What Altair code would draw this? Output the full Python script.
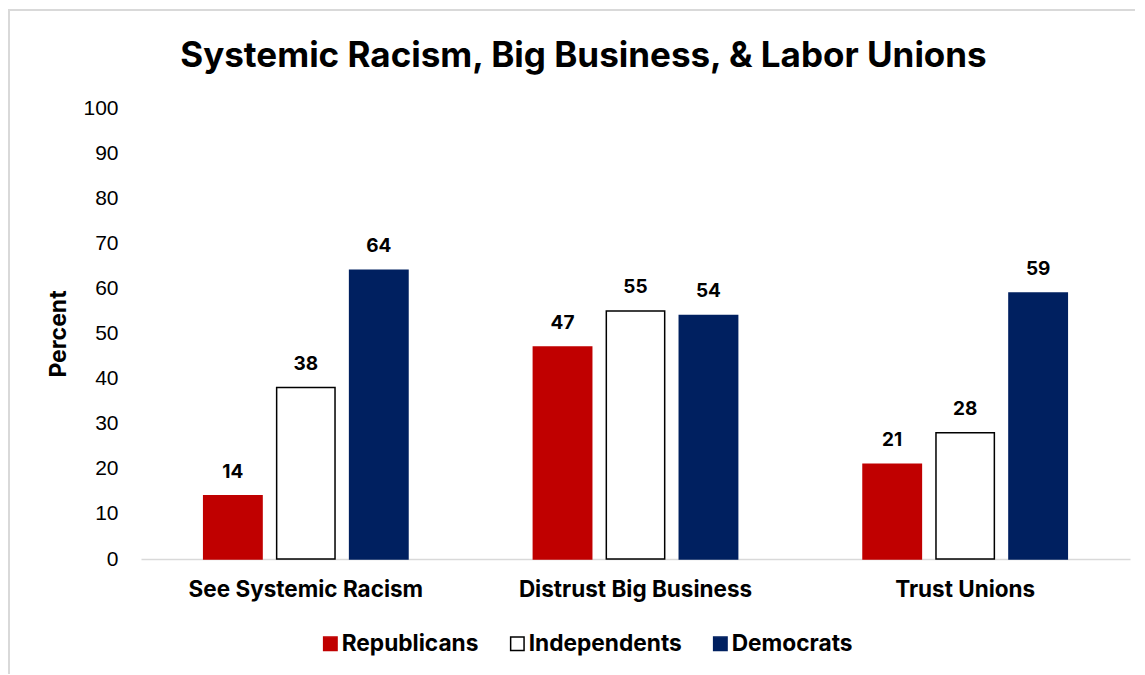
import altair as alt
import pandas as pd

categories = ["See Systemic Racism", "Distrust Big Business", "Trust Unions"]
parties = ["Republicans", "Independents", "Democrats"]
republicans = [14, 47, 21]
independents = [38, 55, 28]
democrats = [64, 54, 59]
colors = ["#C00000", "#FFFFFF", "#002060"]
strokes = ["#C00000", "#000000", "#002060"]

rows = []
for i, c in enumerate(categories):
    for p, vals in zip(parties, [republicans, independents, democrats]):
        rows.append({"category": c, "party": p, "value": vals[i]})
df = pd.DataFrame(rows)

FONT = "Inter"

x = alt.X("category:N", sort=categories, title=None,
          scale=alt.Scale(paddingInner=0.336, paddingOuter=0.168),
          axis=alt.Axis(labelAngle=0, labelFont=FONT, labelFontWeight="bold",
                        labelFontSize=22.5, labelColor="#000000", labelPadding=19,
                        labelLimit=0,
                        ticks=False, domainColor="#d9d9d9", domainWidth=1.5))
xoff = alt.XOffset("party:N", sort=parties,
                   scale=alt.Scale(paddingInner=0.2, paddingOuter=0.1))
y = alt.Y("value:Q", title="Percent",
          scale=alt.Scale(domain=[0, 100], nice=False),
          axis=alt.Axis(values=list(range(0, 101, 10)), grid=False, domain=False,
                        ticks=False, labelFont="Liberation Sans", labelFontSize=21,
                        labelColor="#000000", labelPadding=23,
                        titleFont=FONT, titleFontWeight="bold", titleFontSize=23,
                        titleColor="#000000", titlePadding=12))

bars = alt.Chart(df).mark_bar(strokeWidth=1.5).encode(
    x=x, xOffset=xoff, y=y,
    fill=alt.Fill("party:N", sort=parties,
                  scale=alt.Scale(domain=parties, range=colors),
                  legend=alt.Legend(title=None, orient="none", direction="horizontal",
                                    legendX=178, legendY=524,
                                    symbolType="square", symbolSize=180,
                                    symbolStrokeWidth=1.5,
                                    labelFont=FONT, labelFontWeight="bold",
                                    labelFontSize=22.7, labelColor="#000000",
                                    labelOffset=0, columnPadding=27,
                                    labelLimit=0)),
    stroke=alt.Stroke("party:N", sort=parties,
                      scale=alt.Scale(domain=parties, range=strokes),
                      legend=None),
)

labels = alt.Chart(df).mark_text(baseline="bottom", dy=-14, font=FONT,
                                 fontWeight="bold", fontSize=19, color="#000000").encode(
    x=x, xOffset=xoff, y=y, text="value:Q")

border = alt.Chart(df).mark_rect(fill=None, stroke="#d9d9d9", strokeWidth=1.5).encode(
    x=alt.value(-132), x2=alt.value(1200), y=alt.value(-98), y2=alt.value(800))

chart = alt.layer(border, bars, labels).properties(
    width=989, height=451,
    title=alt.Title("Systemic Racism, Big Business, & Labor Unions",
                    font=FONT, fontWeight="bold", fontSize=35, color="#000000",
                    anchor="middle", dx=-52, offset=0, dy=65),
    autosize=alt.AutoSizeParams(type="none"),
    padding={"left": 133, "top": 100, "right": 5, "bottom": 115},
).configure_view(stroke=None)

chart.save("out.html", embed_options={"renderer": "svg", "actions": False})
